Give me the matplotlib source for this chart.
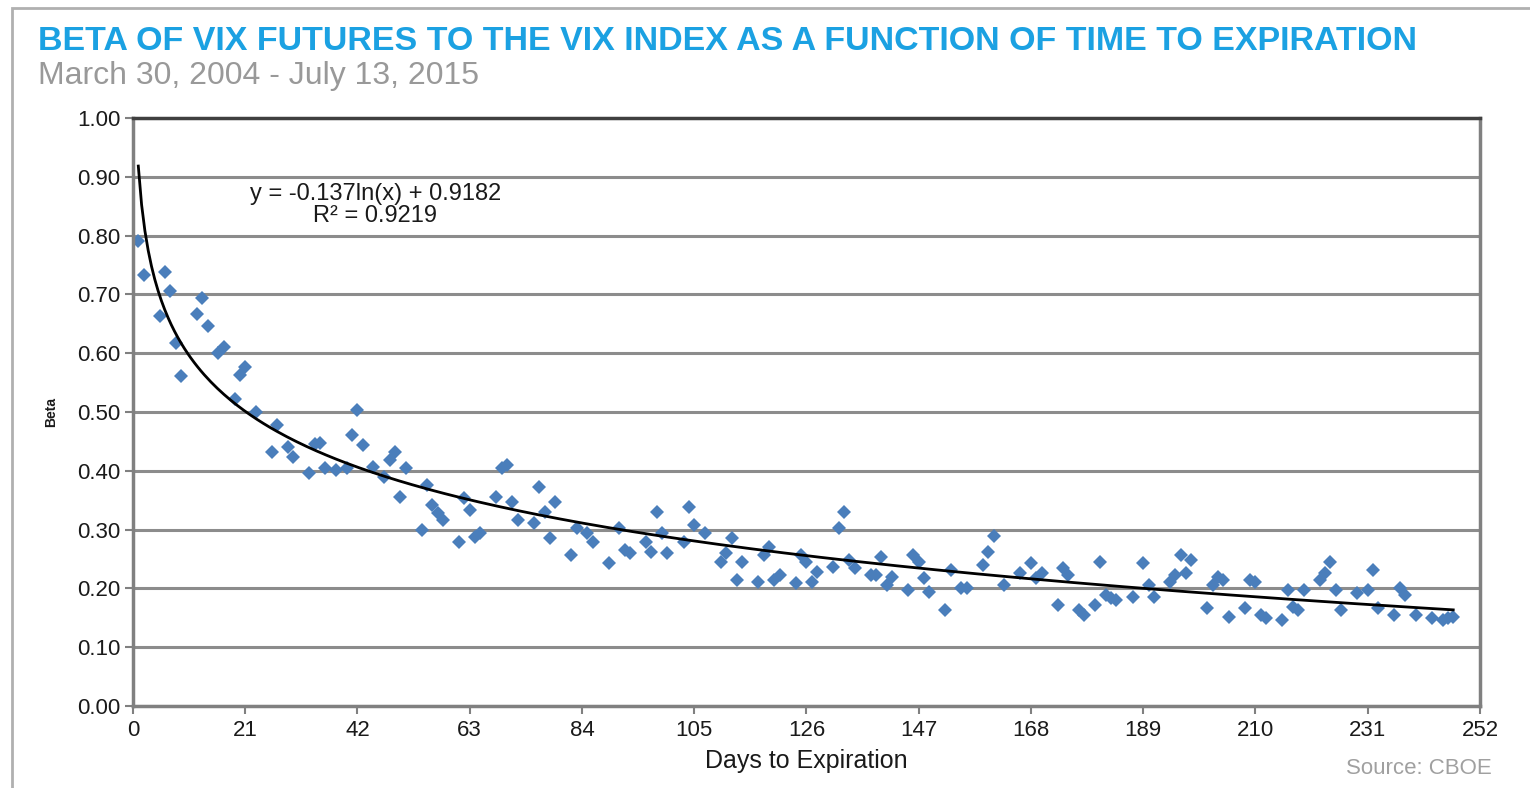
import numpy as np
import matplotlib
matplotlib.use("Agg")
import matplotlib.pyplot as plt
from matplotlib.patches import Rectangle

# beta of VIX futures vs days to expiration
days = [1, 2, 5, 6, 7, 8, 9, 12, 13, 14, 16, 17, 19, 20, 21, 23, 26, 27, 29, 30,
        33, 34, 35, 36, 38, 40, 41, 42, 43, 45, 47, 48, 49, 50, 51, 54, 55, 56, 57, 58,
        61, 62, 63, 64, 65, 68, 69, 70, 71, 72, 75, 76, 77, 78, 79, 82, 83, 85, 86, 89,
        91, 92, 93, 96, 97, 98, 99, 100, 103, 104, 105, 107, 110, 111, 112, 113, 114, 117, 118, 119,
        120, 121, 124, 125, 126, 127, 128, 131, 132, 133, 134, 135, 138, 139, 140, 141, 142, 145, 146, 147,
        148, 149, 152, 153, 155, 156, 159, 160, 161, 163, 166, 168, 169, 170, 173, 174, 175, 177, 178, 180,
        181, 182, 183, 184, 187, 189, 190, 191, 194, 195, 196, 197, 198, 201, 202, 203, 204, 205, 208, 209,
        210, 211, 212, 215, 216, 217, 218, 219, 222, 223, 224, 225, 226, 229, 231, 232, 233, 236, 237, 238,
        240, 243, 245, 246, 247]
beta = [0.790, 0.733, 0.663, 0.738, 0.706, 0.617, 0.561, 0.667, 0.694, 0.646, 0.600, 0.610, 0.522, 0.563, 0.577, 0.500, 0.432, 0.478, 0.440, 0.423,
        0.396, 0.445, 0.447, 0.405, 0.401, 0.405, 0.461, 0.503, 0.444, 0.406, 0.389, 0.418, 0.432, 0.355, 0.405, 0.300, 0.376, 0.342, 0.328, 0.316,
        0.279, 0.354, 0.333, 0.287, 0.294, 0.355, 0.405, 0.410, 0.347, 0.316, 0.311, 0.372, 0.330, 0.286, 0.347, 0.257, 0.303, 0.294, 0.279, 0.243,
        0.303, 0.265, 0.260, 0.279, 0.262, 0.330, 0.294, 0.260, 0.279, 0.338, 0.308, 0.294, 0.245, 0.260, 0.286, 0.214, 0.245, 0.210, 0.257, 0.270,
        0.214, 0.223, 0.209, 0.257, 0.245, 0.211, 0.228, 0.236, 0.303, 0.330, 0.248, 0.235, 0.223, 0.223, 0.253, 0.206, 0.219, 0.197, 0.257, 0.245,
        0.218, 0.194, 0.163, 0.231, 0.200, 0.200, 0.240, 0.262, 0.289, 0.206, 0.226, 0.243, 0.218, 0.226, 0.172, 0.235, 0.223, 0.163, 0.155, 0.172,
        0.245, 0.189, 0.184, 0.180, 0.185, 0.243, 0.206, 0.185, 0.211, 0.223, 0.257, 0.226, 0.248, 0.167, 0.206, 0.219, 0.214, 0.151, 0.167, 0.214,
        0.211, 0.155, 0.150, 0.146, 0.197, 0.168, 0.163, 0.197, 0.214, 0.226, 0.245, 0.197, 0.163, 0.192, 0.197, 0.231, 0.167, 0.155, 0.200, 0.189,
        0.155, 0.150, 0.146, 0.150, 0.151]

# log trendline as printed on the chart
fit_a = -0.137
fit_b = 0.9182
fit_r2 = 0.9219

xticks = [0, 21, 42, 63, 84, 105, 126, 147, 168, 189, 210, 231, 252]
yticks = [0.0, 0.1, 0.2, 0.3, 0.4, 0.5, 0.6, 0.7, 0.8, 0.9, 1.0]

plt.rcParams['font.family'] = ['Liberation Sans', 'DejaVu Sans']

fig = plt.figure(figsize=(15.3, 7.88), dpi=100)
ax = fig.add_axes([0.0869, 0.1041, 0.8804, 0.7462])

# outer frame
fig.patches.append(Rectangle((12 / 1530, -0.1), 1.1, 1 - 8 / 788 + 0.1,
                             transform=fig.transFigure, fill=False,
                             edgecolor='#b0b0b0', lw=2))

ax.set_xlim(0, 252)
ax.set_ylim(0, 1.0)
ax.set_xticks(xticks)
ax.set_yticks(yticks)
ax.set_yticklabels(['%.2f' % v for v in yticks])
ax.grid(axis='y', color='#8c8c8c', lw=2.2)
ax.set_axisbelow(True)
for s in ['left', 'right', 'bottom']:
    ax.spines[s].set_color('#808080')
    ax.spines[s].set_linewidth(2.5)
ax.spines['top'].set_color('#404040')
ax.spines['top'].set_linewidth(2.5)
ax.tick_params(axis='both', colors='#808080', labelcolor='#1a1a1a',
               labelsize=16, length=6, width=1.5)
ax.tick_params(axis='x', pad=4)
ax.tick_params(axis='y', pad=3)

ax.plot(days, beta, linestyle='none', marker='D', markersize=7.5,
        color='#4a7ebb', markeredgewidth=0)

xfit = np.linspace(1, 247, 400)
ax.plot(xfit, fit_a * np.log(xfit) + fit_b, color='black', lw=2)

ax.text(0.18, 0.852, 'y = %.3fln(x) + %.4f\nR² = %.4f' % (fit_a, fit_b, fit_r2),
        transform=ax.transAxes, ha='center', va='center', fontsize=17,
        color='#1a1a1a', linespacing=0.95)

ax.set_xlabel('Days to Expiration', fontsize=18, color='#1a1a1a', labelpad=6)
ax.set_ylabel('Beta', fontsize=10, fontweight='bold', color='#1a1a1a', labelpad=14)

fig.text(38 / 1530, 1 - 42 / 788,
         'BETA OF VIX FUTURES TO THE VIX INDEX AS A FUNCTION OF TIME TO EXPIRATION',
         ha='left', va='center', fontsize=24.5, fontweight='bold', color='#1ba1e2')
fig.text(38 / 1530, 1 - 76 / 788, 'March 30, 2004 - July 13, 2015',
         ha='left', va='center', fontsize=23, color='#999999')
fig.text(1492 / 1530, 1 - 768 / 788, 'Source: CBOE', ha='right', va='center',
         fontsize=16, color='#a0a0a0')

fig.savefig('out.png', dpi=100, facecolor='white')
